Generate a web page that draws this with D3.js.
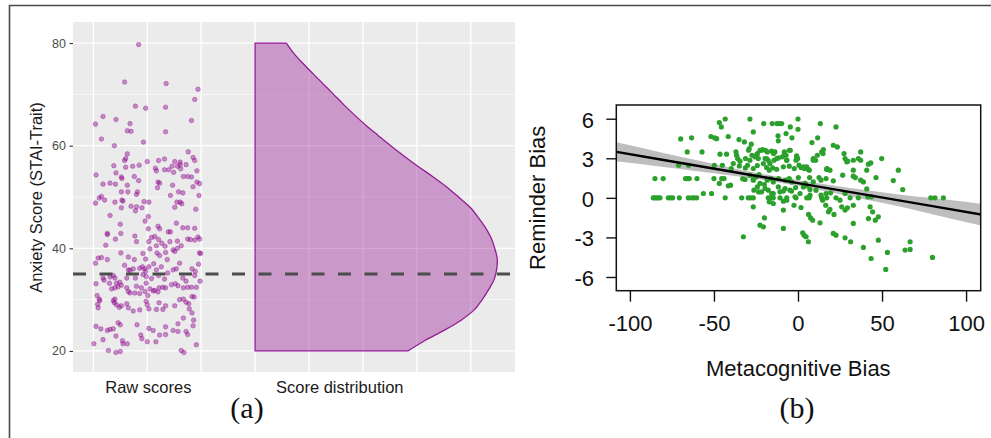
<!DOCTYPE html>
<html>
<head>
<meta charset="utf-8">
<script src="https://cdn.jsdelivr.net/npm/d3@7"></script>
<style>
  body { margin: 0; background: #fff; }
  svg { display: block; font-family: "Liberation Sans", Arial, sans-serif; }
</style>
</head>
<body>
<svg id="fig" width="991" height="438"></svg>
<script>
// ---- panel (a) data: STAI-Trait scores ----
// [jitter position on x, score]
const rawPoints = [
  [1.84,79.7],[1.58,72.4],[2.35,72.1],[2.94,71.0],[2.88,69.0],[1.78,67.7],[1.97,67.3],[2.34,67.5],
  [2.82,64.9],[1.04,64.2],[1.18,65.7],[1.42,65.1],[1.68,64.3],[1.63,62.9],[1.70,62.8],[2.34,62.7],
  [1.15,61.3],[1.93,60.7],[1.39,60.0],
  [1.63,58.4],[1.60,57.5],[1.58,57.1],[1.38,56.1],[1.60,55.8],[1.73,56.0],[1.85,56.2],[2.00,56.9],
  [2.21,57.1],[2.32,57.4],[2.46,56.0],[2.51,56.9],[2.61,56.8],[2.76,58.8],[2.85,57.7],[2.88,57.1],
  [2.72,56.3],[2.56,56.0],[2.15,55.6],[2.17,55.1],[2.32,55.3],[2.40,55.3],[2.49,54.8],[2.61,56.3],
  [2.62,55.5],[2.92,55.1],[1.05,54.3],[1.42,54.7],[1.52,53.9],[1.53,53.6],[1.76,54.0],[1.84,53.2],
  [1.63,52.3],[1.18,52.5],[1.31,52.7],[1.41,52.5],[1.52,51.0],[1.64,51.0],[1.82,51.0],[1.80,50.5],
  [2.20,52.9],[2.23,52.7],[2.19,51.8],[2.47,52.3],[2.58,51.0],[2.67,54.0],[2.75,54.0],[2.82,53.9],
  [2.85,52.0],[2.92,52.9],[2.97,52.6],[1.04,48.8],[1.11,49.8],[1.15,50.1],[1.21,49.4],[1.40,49.0],
  [1.53,49.4],[1.55,49.2],[1.52,47.9],[1.70,48.2],[1.80,48.1],[1.90,47.9],[1.94,49.1],[2.03,49.0],
  [2.43,50.3],[2.66,50.8],[2.55,49.0],[2.61,49.0],[2.64,48.7],[2.51,48.0],[2.90,47.6],[2.96,50.3],
  [1.31,46.4],[1.50,44.7],[1.78,47.3],
  [1.96,45.3],[2.02,46.2],[2.20,44.3],[2.23,43.8],[2.39,43.2],[2.43,43.2],[2.54,44.9],[2.66,44.0],
  [2.75,44.0],[2.88,43.9],[2.94,42.2],[2.97,41.8],[2.88,41.6],[2.75,41.8],[2.80,41.7],[1.77,42.4],
  [1.80,41.3],[2.02,43.8],[2.03,41.3],[2.08,42.1],[2.14,42.3],[2.21,41.7],[2.27,41.0],[2.33,40.4],
  [2.42,41.3],[2.56,41.4],[2.05,39.9],[2.17,40.5],[2.18,39.1],[2.23,38.6],[2.34,39.2],[2.37,37.8],
  [2.48,39.7],[2.51,39.4],[2.56,40.0],[2.63,40.5],[1.26,42.7],[1.26,42.9],[1.23,40.6],[1.41,41.8],
  [1.51,42.9],[1.09,38.1],[1.04,37.1],[1.15,38.2],[1.26,37.8],[1.51,39.1],[1.65,38.3],[1.76,37.8],
  [1.92,39.0],[1.97,37.9],[2.97,39.1],[2.99,39.0],[2.95,36.9],
  [1.05,33.1],[1.07,30.8],[1.11,30.1],[1.12,29.8],[1.18,34.2],[1.20,33.8],[1.30,33.2],[1.31,34.4],
  [1.37,34.7],[1.40,34.2],[1.43,33.2],[1.49,33.4],[1.52,32.8],[1.58,36.7],[1.65,35.8],[1.62,34.2],
  [1.68,35.7],[1.74,36.0],[1.78,34.2],[1.86,36.1],[1.91,36.4],[1.95,36.0],[1.92,34.9],[1.97,35.5],
  [1.98,34.5],[2.03,36.4],[2.08,34.1],[2.12,37.0],[2.17,35.8],[2.21,34.7],[2.26,36.4],[2.32,34.0],
  [2.38,35.2],[2.48,35.8],[2.54,36.0],[2.60,37.1],[2.72,33.6],[2.75,32.4],[2.82,32.4],[2.83,36.0],
  [2.88,34.7],[2.89,35.5],[2.91,32.4],[2.98,33.6],[2.66,34.2],[2.52,33.1],[2.57,32.7],[1.34,32.1],
  [1.40,32.3],[1.46,32.5],[1.62,32.3],[1.65,31.6],[1.68,31.3],[1.77,31.3],[1.86,31.2],[1.89,32.3],
  [1.96,31.6],[2.01,30.8],[2.05,32.1],[2.11,31.7],[2.14,31.8],[2.22,32.3],[2.29,32.4],[2.34,32.3],
  [2.45,32.9],[2.20,31.5],[1.80,32.6],[1.98,33.2],[2.67,32.3],[2.83,30.6],
  [1.09,28.4],[1.08,29.1],[1.37,29.8],[1.40,30.1],[1.43,29.0],[1.48,28.5],[1.39,29.4],[1.52,28.8],
  [1.62,29.2],[1.65,28.4],[1.74,27.8],[1.86,28.0],[1.98,29.7],[2.00,29.0],[2.03,28.2],[2.17,28.1],
  [2.22,29.4],[2.34,28.8],[2.29,28.1],[2.51,28.8],[2.60,30.0],[2.67,30.1],[2.72,29.5],[2.78,28.2],
  [2.77,29.2],[2.87,30.5],[2.83,27.4],[1.05,24.8],[1.14,24.3],[1.18,22.2],[1.26,24.0],[1.31,24.2],
  [1.37,24.3],[1.42,22.9],[1.46,25.5],[1.50,25.1],[1.55,21.4],[1.63,21.4],[1.54,22.0],[1.81,25.1],
  [1.88,23.1],[1.90,22.4],[2.00,21.8],[2.03,24.4],[2.11,24.0],[2.16,21.8],[2.23,23.1],[2.34,23.2],
  [2.34,24.7],[2.48,24.0],[2.57,23.8],[2.57,25.3],[2.67,26.4],[2.72,23.8],[2.75,23.2],[2.85,24.9],
  [2.86,26.0],[1.01,21.4],[1.28,20.1],[1.42,19.7],[1.50,19.9],[2.63,20.1],[2.68,19.7],[2.91,21.2]
]

// half-violin: relative density at each score
const densityScores = [20,22,24,26,28,30,32,34,36,38,40,42,44,46,48,50,52,54,56,58,60,62,64,66,68,70,72,74,76,78,80]
const densityValues = [0.631,0.70,0.78,0.851,0.905,0.938,0.965,0.988,0.998,1.0,0.99,0.975,0.952,0.922,0.888,
                       0.84,0.79,0.733,0.672,0.615,0.56,0.508,0.457,0.41,0.366,0.324,0.282,0.24,0.198,0.16,0.129]

const cutoff = 35
const categoryLabels = ['Raw scores', 'Score distribution']
const yTicksA = [20, 40, 60, 80]

// ---- panel (b) data: metacognitive bias vs reminder bias ----
const biasPoints = [
  [-43.3,5.98],[-28.6,5.98],[0.0,5.98],[-46.8,5.71],[-20.4,5.63],[-15.3,5.63],[-12.5,5.63],[-11.1,5.63],
  [-9.7,5.63],[13.3,5.63],[-45.6,5.38],[-4.6,5.38],[22.6,5.38],[0.0,5.20],[-26.6,5.0],[-7.1,4.87],
  [-69.8,4.47],[-63.3,4.55],[-51.8,4.65],[-49.6,4.55],[-48.4,4.49],[-41.5,4.65],[-35.1,4.42],[-11.9,4.70],
  [-3.6,4.55],[11.7,4.55],[-31.9,4.24],[-11.7,4.32],[-27.8,4.07],[8.3,4.19],[21.0,3.99],[23.4,3.86],
  [-65.9,3.48],[-57.1,3.48],[-46.4,3.31],[-42.5,3.31],[-36.9,3.48],[-29.0,3.74],[-22.6,3.61],[-21.0,3.66],
  [-18.3,3.48],[-15.7,3.54],[-13.7,3.48],[-8.1,3.48],[-5.2,3.61],[-0.8,3.18],[-0.2,2.98],[14.1,3.48],
  [15.1,3.66],[27.4,3.36],[37.3,3.48],
  [-36.5,3.23],[-35.9,2.98],[-34.5,2.78],[-28.6,2.85],[-25.6,3.11],[-24.4,3.28],[-23.6,2.98],[-19.6,2.98],
  [-17.7,2.85],[-14.3,2.85],[-11.7,3.03],[-9.3,3.11],[-7.1,3.23],[-6.7,2.85],[-1.2,2.85],[3.8,2.22],
  [5.2,2.35],[9.1,2.98],[10.5,2.85],[28.0,2.98],[29.6,2.78],[32.9,2.85],[35.9,2.98],[49.8,2.98],[37.3,2.85],
  [-71.0,2.47],[-65.1,2.47],[-49.8,2.47],[-45.0,2.47],[-39.7,2.22],[-38.5,2.60],[-34.9,2.42],[-31.3,2.27],
  [-30.0,2.47],[-26.6,2.22],[-24.2,2.45],[-20.6,2.60],[-18.7,2.30],[-17.1,2.10],[-15.1,2.27],[-12.7,2.17],
  [-8.7,2.35],[-5.2,2.40],[-2.2,2.22],[1.8,2.30],[6.7,2.10],[17.1,2.15],[19.0,2.10],[40.9,2.10],[41.9,2.55],
  [43.3,2.65],[59.7,2.10],[32.9,2.10],
  [-85.1,1.46],[-80.2,1.46],[-66.9,1.46],[-65.7,1.46],[-64.7,1.46],[-60.1,1.46],[-50.0,1.46],[-46.8,1.09],
  [-45.4,1.46],[-44.0,1.46],[-41.5,0.91],[-40.1,0.96],[-32.9,1.44],[-31.5,1.39],[-28.6,1.72],[-26.6,1.39],
  [-25.0,1.59],[-23.2,1.77],[-20.0,1.01],[-18.3,1.34],[-16.1,1.46],[-14.7,1.21],[-11.5,1.46],[-7.3,1.34],
  [-5.2,1.46],[-3.8,1.21],[0.2,1.54],[4.2,1.09],[5.2,0.91],[6.9,1.54],[9.1,1.21],[12.5,1.54],[13.7,1.34],
  [16.7,1.46],[17.1,2.20],[21.0,1.29],[26.6,1.72],[32.9,1.64],[34.1,1.54],[37.3,1.34],[38.9,1.21],
  [46.4,1.54],[56.7,1.31],[62.3,0.63],
  [-56.3,0.33],[-51.4,0.33],[-26.2,0.58],[-24.2,0.83],[-23.4,0.45],[-21.6,0.45],[-17.7,0.58],[-14.7,0.33],
  [-11.7,0.83],[-8.7,0.51],[-3.8,0.51],[-1.4,0.78],[3.2,0.83],[7.1,0.63],[10.7,0.58],[13.7,0.20],
  [16.7,0.33],[19.4,0.38],[28.0,0.33],[40.9,0.68],[41.5,0.08],[43.7,0.08],
  [-86.1,0],[-85.1,0],[-84.1,0],[-83.1,0],[-82.1,0],[-77.2,0],[-75.8,0],[-74.6,0],[-70.6,0],[-65.3,0],
  [-63.3,0],[-61.9,0],[-60.3,0],[-43.3,0],[-33.5,0],[-29.6,0],[-28.2,0],[-26.6,0],[-17.7,0],[-15.7,0],
  [-14.7,0],[-10.7,0],[-6.7,0],[-1.2,0],[5.2,0],[6.7,0],[14.1,0],[17.1,0],[22.6,0],[31.0,0],[35.9,0],
  [79.0,0],[81.5,0],[86.5,0],
  [-26.6,-0.68],[-17.1,-0.30],[-14.7,-0.43],[-8.7,-0.25],[-6.7,-0.18],[-2.4,-0.56],[1.8,-0.73],[14.7,-0.18],
  [16.5,-0.56],[19.0,-0.88],[25.0,-0.18],[26.0,-0.68],[28.0,-0.93],[29.4,-0.76],[32.9,-0.56],[42.9,-0.68],
  [44.4,-1.06],
  [-8.7,-0.93],[6.3,-1.26],[7.5,-1.52],[8.7,-1.69],[13.1,-1.89],[18.1,-1.06],[21.4,-1.26],[41.9,-1.57],
  [46.0,-1.69],[47.8,-1.44],[32.9,-1.94],[-20.0,-1.52],[-22.6,-2.07],[-20.6,-2.20],[-8.7,-2.32],
  [-32.5,-2.95],[2.8,-2.65],[3.6,-2.83],[4.8,-2.95],[6.2,-3.33],[21.0,-2.70],[22.6,-2.83],[28.0,-3.03],
  [31.3,-3.33],[38.9,-3.76],[47.8,-3.21],[66.7,-3.33],[63.7,-3.96],[66.7,-3.91],
  [43.5,-4.60],[53.2,-4.14],[52.2,-5.43],[80.0,-4.52],
  [-31.2,2.98],[-29.4,3.61],[-27.4,3.23],[-24.2,3.36],[-21.6,3.61],[-19.4,3.61],[-18.7,2.98],[-16.7,2.60],
  [-14.5,3.36],[-12.7,2.98],[-8.1,3.31],[-6.7,2.86],[-4.6,3.61],[-0.8,3.11],[0.6,2.48],[3.4,2.35],
  [6.2,2.15],[9.1,2.86],[11.5,3.23],[14.9,3.36],[17.3,2.22],[29.0,2.73],
  [-26.6,1.34],[-22.6,1.09],[-19.6,0.71],[-15.7,0.33],[-10.7,0.46],[-7.7,0.71],[-4.8,0.58],[-1.8,0.08],
  [1.2,0.33],[4.2,1.09],[7.1,0.20]
]

// linear fit with 95% band, read at these x values
const fitX   = [-108, -80, -60, -40, -20, 0, 20, 40, 60, 80, 109]
const fitMid = [3.49, 2.87, 2.43, 2.00, 1.56, 1.12, 0.68, 0.24, -0.19, -0.63, -1.27]
const fitLo  = [2.77, 2.34, 2.02, 1.70, 1.34, 0.91, 0.40, -0.12, -0.64, -1.24, -2.10]
const fitHi  = [4.21, 3.41, 2.85, 2.29, 1.78, 1.33, 0.96, 0.60, 0.26, -0.02, -0.44]

const xTicksB = [-100, -50, 0, 50, 100]
const yTicksB = [-6, -3, 0, 3, 6]

const purple = '#8B008B'
const green = '#2CA02C'

const svg = d3.select('#fig')

// outer frame (top + left only)
svg.append('path')
    .attr('d', 'M9.5,438V5.5H991')
    .attr('fill', 'none')
    .attr('stroke', '#4a4a4a')
    .attr('stroke-width', 1.6)

// ================= panel (a) =================
const pa = { left: 73, right: 515, top: 22, bottom: 372 }

const xa = d3.scaleLinear().domain([0.623, 8.82]).range([pa.left, pa.right])
const ya = d3.scaleLinear().domain([15.9, 84.1]).range([pa.bottom, pa.top])

const ga = svg.append('g')

ga.append('rect')
    .attr('x', pa.left).attr('y', pa.top)
    .attr('width', pa.right - pa.left).attr('height', pa.bottom - pa.top)
    .attr('fill', '#EBEBEB')

// minor then major grid
ga.selectAll('.minor-y').data([30, 50, 70]).join('line')
    .attr('x1', pa.left).attr('x2', pa.right)
    .attr('y1', d => ya(d)).attr('y2', d => ya(d))
    .attr('stroke', '#fff').attr('stroke-width', 0.6)
ga.selectAll('.major-y').data(yTicksA).join('line')
    .attr('x1', pa.left).attr('x2', pa.right)
    .attr('y1', d => ya(d)).attr('y2', d => ya(d))
    .attr('stroke', '#fff').attr('stroke-width', 1.3)
ga.selectAll('.major-x').data(d3.range(1, 9)).join('line')
    .attr('x1', d => xa(d)).attr('x2', d => xa(d))
    .attr('y1', pa.top).attr('y2', pa.bottom)
    .attr('stroke', '#fff').attr('stroke-width', 1.3)

// half violin, starting at x = 4
const violinBase = 4
const wScale = d3.scaleLinear().domain([0, 1]).range([violinBase, 8.49])
const densData = densityScores.map((s, i) => ({ s: s, d: densityValues[i] }))

const violin = d3.area()
    .y(d => ya(d.s))
    .x0(xa(violinBase))
    .x1(d => xa(wScale(d.d)))
    .curve(d3.curveCatmullRom)

ga.append('path')
    .datum(densData)
    .attr('d', violin)
    .attr('fill', purple)
    .attr('fill-opacity', 0.35)
    .attr('stroke', '#951B95')
    .attr('stroke-width', 1.3)

// raw score points
ga.selectAll('.raw').data(rawPoints).join('circle')
    .attr('cx', d => xa(d[0]))
    .attr('cy', d => ya(d[1]))
    .attr('r', 2.3)
    .attr('fill', purple).attr('fill-opacity', 0.42)
    .attr('stroke', purple).attr('stroke-opacity', 0.45)
    .attr('stroke-width', 0.7)

// cutoff line
ga.append('line')
    .attr('x1', pa.left).attr('x2', pa.right)
    .attr('y1', ya(cutoff)).attr('y2', ya(cutoff))
    .attr('stroke', '#4D4D4D')
    .attr('stroke-width', 3.2)
    .attr('stroke-dasharray', '13,13.5')

// y axis
const axA = ga.append('g')
    .attr('transform', `translate(${pa.left},0)`)
    .call(d3.axisLeft(ya).tickValues(yTicksA).tickSize(3.5).tickPadding(3.5))
axA.select('.domain').remove()
axA.selectAll('.tick line').attr('stroke', '#333').attr('stroke-width', 1.1)
axA.selectAll('.tick text')
    .attr('fill', '#4D4D4D')
    .style('font-size', '12.5px')
    .style('font-family', '"Liberation Sans", Arial, sans-serif')

ga.append('text')
    .attr('transform', 'translate(36.7,197.5) rotate(-90)')
    .attr('text-anchor', 'middle')
    .attr('dy', '0.35em')
    .attr('fill', '#1a1a1a')
    .style('font-size', '16.5px')
    .text('Anxiety Score (STAI-Trait)')

// category labels
const labelAt = [2.02, 5.57]
ga.selectAll('.cat').data(categoryLabels).join('text')
    .attr('x', (d, i) => xa(labelAt[i]))
    .attr('y', 392.5)
    .attr('text-anchor', 'middle')
    .attr('fill', '#1a1a1a')
    .style('font-size', '16.5px')
    .text(d => d)

// ================= panel (b) =================
const pb = { left: 616.3, right: 980.7, top: 105, bottom: 290.7 }

const xb = d3.scaleLinear().domain([-108.1, 108.7]).range([pb.left, pb.right])
const yb = d3.scaleLinear().domain([-7.04, 7.04]).range([pb.bottom, pb.top])

const gb = svg.append('g')

gb.append('clipPath').attr('id', 'clipb')
    .append('rect')
    .attr('x', pb.left).attr('y', pb.top)
    .attr('width', pb.right - pb.left).attr('height', pb.bottom - pb.top)

const fitData = fitX.map((x, i) => ({ x: x, lo: fitLo[i], hi: fitHi[i], mid: fitMid[i] }))

gb.append('path')
    .datum(fitData)
    .attr('clip-path', 'url(#clipb)')
    .attr('d', d3.area().x(d => xb(d.x)).y0(d => yb(d.lo)).y1(d => yb(d.hi)).curve(d3.curveMonotoneX))
    .attr('fill', '#BEBEBE')

gb.selectAll('.pt').data(biasPoints).join('circle')
    .attr('cx', d => xb(d[0]))
    .attr('cy', d => yb(d[1]))
    .attr('r', 2.6)
    .attr('fill', green)

gb.append('path')
    .datum(fitData)
    .attr('clip-path', 'url(#clipb)')
    .attr('d', d3.line().x(d => xb(d.x)).y(d => yb(d.mid)))
    .attr('fill', 'none')
    .attr('stroke', '#000')
    .attr('stroke-width', 2.4)

gb.append('rect')
    .attr('x', pb.left).attr('y', pb.top)
    .attr('width', pb.right - pb.left).attr('height', pb.bottom - pb.top)
    .attr('fill', 'none')
    .attr('stroke', '#111')
    .attr('stroke-width', 1.5)

const axBx = gb.append('g')
    .attr('transform', `translate(0,${pb.bottom})`)
    .call(d3.axisBottom(xb).tickValues(xTicksB).tickSize(11).tickPadding(13.4).tickFormat(d3.format('d')))
const axBy = gb.append('g')
    .attr('transform', `translate(${pb.left},0)`)
    .call(d3.axisLeft(yb).tickValues(yTicksB).tickSize(10).tickPadding(12.3).tickFormat(d3.format('d')))

for (const ax of [axBx, axBy]) {
    ax.select('.domain').remove()
    ax.selectAll('.tick line').attr('stroke', '#111').attr('stroke-width', 1.4)
    ax.selectAll('.tick text')
        .attr('fill', '#111')
        .style('font-size', '22px')
        .style('font-family', '"Liberation Sans", Arial, sans-serif')
}
axBy.selectAll('.tick text').attr('dy', '0.38em')
// R prints minus as hyphen
axBx.selectAll('.tick text').text(d => String(d))
axBy.selectAll('.tick text').text(d => String(d))

gb.append('text')
    .attr('transform', 'translate(537.5,197.8) rotate(-90)')
    .attr('text-anchor', 'middle')
    .attr('dy', '0.36em')
    .attr('fill', '#111')
    .style('font-size', '22px')
    .text('Reminder Bias')

gb.append('text')
    .attr('x', 798.3).attr('y', 376)
    .attr('text-anchor', 'middle')
    .attr('fill', '#111')
    .style('font-size', '22px')
    .text('Metacognitive Bias')

// ---- sub-figure captions ----
svg.selectAll('.cap').data(['(a)', '(b)']).join('text')
    .attr('x', (d, i) => [247, 797][i])
    .attr('y', 418)
    .attr('text-anchor', 'middle')
    .attr('fill', '#111')
    .style('font-family', '"Liberation Serif", "Times New Roman", serif')
    .style('font-size', '30px')
    .text(d => d)
</script>
</body>
</html>
